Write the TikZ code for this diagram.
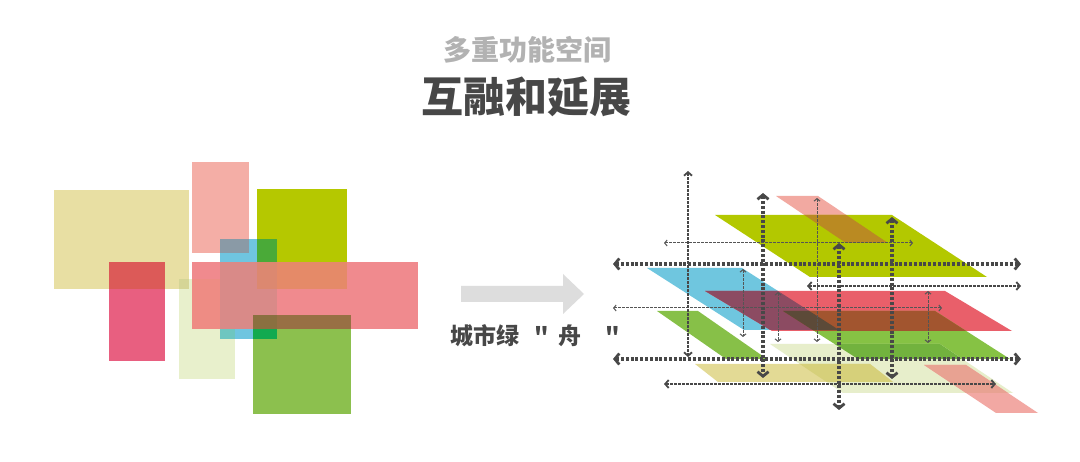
\documentclass[tikz,border=0pt]{standalone}
\usepackage{fontspec}
\newfontfamily\cjk{Noto Sans CJK SC}
\usetikzlibrary{arrows.meta}
% left panel colours
\definecolor{lkhaki}{HTML}{E8DFA3}
\definecolor{lpinktop}{HTML}{F4AEA6}
\definecolor{llime}{HTML}{B5C800}
\definecolor{lblue}{HTML}{6FC5E0}
\definecolor{lredv}{HTML}{E85F80}
\definecolor{lpale}{HTML}{E8F0CC}
\definecolor{lpinkh}{HTML}{F08A8E}
\definecolor{lgreen}{HTML}{8CC04E}
\definecolor{okhred}{HTML}{DC5A58}
\definecolor{okhpale}{HTML}{D5D596}
\definecolor{optblue}{HTML}{8A9AA6}
\definecolor{olimeblue}{HTML}{4AAA38}
\definecolor{opinkpale}{HTML}{EE8C84}
\definecolor{opinkblue}{HTML}{D98A88}
\definecolor{opinklime}{HTML}{E58A68}
\definecolor{oplb}{HTML}{DC8870}
\definecolor{ogreenpink}{HTML}{987044}
\definecolor{ogreenblue}{HTML}{12AA50}
\definecolor{obluepale}{HTML}{6EC6C0}
\definecolor{ogpb}{HTML}{8A7040}
% right panel colours
\definecolor{rPT}{HTML}{F2A9A1}
\definecolor{rLM}{HTML}{B3C800}
\definecolor{rBL}{HTML}{6FC6DF}
\definecolor{rRD}{HTML}{E95F6A}
\definecolor{rGL}{HTML}{87C048}
\definecolor{rGR}{HTML}{86C244}
\definecolor{rPL}{HTML}{E7EECB}
\definecolor{rKH}{HTML}{E3DA95}
\definecolor{rPB}{HTML}{F2A8A3}
\definecolor{xPTLM}{HTML}{BA8A22}
\definecolor{xBR}{HTML}{8C4B62}
\definecolor{xGR}{HTML}{A2552F}
\definecolor{xGRB}{HTML}{5C4A38}
\definecolor{xPLG}{HTML}{72B23E}
\definecolor{xPLK}{HTML}{D6D07A}
\definecolor{xPLPB}{HTML}{E8A292}
\definecolor{arrgray}{HTML}{484848}
\definecolor{thingray}{HTML}{555555}
\definecolor{bigarrow}{HTML}{DDDDDD}
\definecolor{titlelight}{HTML}{B2B2B2}
\definecolor{titledark}{HTML}{474747}
\begin{document}
\begin{tikzpicture}[x=1pt,y=-1pt,
  heavyarr/.style={draw=arrgray, line width=3.4pt, dash pattern=on 3pt off 1.8pt,
    >={Straight Barb[length=4.5pt,width=11pt,line width=2.8pt]}, <->},
  medarr/.style={draw=arrgray, line width=2pt, dash pattern=on 2.5pt off 1.5pt,
    >={Straight Barb[length=3.5pt,width=8pt,line width=1.8pt]}, <->},
  thinarr/.style={draw=thingray, line width=1pt, dash pattern=on 2.5pt off 1.5pt,
    >={Straight Barb[length=2.5pt,width=6pt,line width=1pt]}, <->}]
\useasboundingbox (0,0) rectangle (1080,462);
\fill[white] (0,0) rectangle (1080,462);

% titles
\node[text=titlelight, font=\cjk\bfseries\fontsize{28}{28}\selectfont, inner sep=0] (t1) at (527,50) {多重功能空间};
\node[text=titledark, font=\cjk\bfseries\fontsize{42}{42}\selectfont, inner sep=0] (t2) at (526,97) {互融和延展};

% left panel
\fill[lkhaki] (54,190) rectangle (189,289);
\fill[lpinktop] (192,162) rectangle (249,253);
\fill[llime] (257,189) rectangle (347,289);
\fill[lblue] (220,239) rectangle (277,339);
\fill[lredv] (109,262) rectangle (165,361);
\fill[lpale] (179,279) rectangle (235,379);
\fill[lpinkh] (192,262) rectangle (418,329);
\fill[lgreen] (253,315) rectangle (351,414);
\fill[okhred] (109,262) rectangle (165,289);
\fill[okhpale] (179,279) rectangle (189,289);
\fill[optblue] (220,239) rectangle (249,253);
\fill[olimeblue] (257,239) rectangle (277,262);
\fill[opinkpale] (192,279) rectangle (235,329);
\fill[opinkblue] (220,262) rectangle (277,329);
\fill[opinklime] (257,262) rectangle (347,289);
\fill[oplb] (257,262) rectangle (277,289);
\fill[ogreenpink] (253,315) rectangle (351,329);
\fill[ogreenblue] (253,329) rectangle (277,339);
\fill[obluepale] (220,329) rectangle (235,339);
\fill[ogpb] (253,315) rectangle (277,329);

% big grey arrow and label
\fill[bigarrow] (461,286) -- (563,286) -- (563,274) -- (584,294) -- (563,314) -- (563,302) -- (461,302) -- cycle;
\node[text=titledark, font=\cjk\bfseries\fontsize{23}{23}\selectfont, inner sep=0, anchor=base west] (lbl) at (450,345) {城市绿\hspace{15pt}"\hspace{10pt}舟\hspace{24pt}"};

% right panel shapes
\def\pPT{(776,196)--(818,196)--(888,243)--(846,243)--cycle}
\def\pLM{(715,215)--(892,215)--(987,277)--(810,277)--cycle}
\def\pBL{(647,268)--(742,268)--(839,330)--(744,330)--cycle}
\def\pRD{(705,291)--(945,291)--(1012,331)--(772,331)--cycle}
\def\pGL{(657,311)--(698,311)--(767,359)--(726,359)--cycle}
\def\pGR{(783,311)--(935,311)--(1010,359)--(858,359)--cycle}
\def\pPL{(770,344)--(940,344)--(1013,393)--(843,393)--cycle}
\def\pKH{(695,364)--(870,364)--(893,382)--(718,382)--cycle}
\def\pPB{(924,365)--(966,365)--(1038,413)--(996,413)--cycle}
\fill[rPT] \pPT;
\fill[rLM] \pLM;
\fill[rBL] \pBL;
\fill[rRD] \pRD;
\fill[rGL] \pGL;
\fill[rGR] \pGR;
\fill[rPL] \pPL;
\fill[rKH] \pKH;
\fill[rPB] \pPB;
\begin{scope}\clip \pPT; \fill[xPTLM] \pLM; \end{scope}
\begin{scope}\clip \pBL; \fill[xBR] \pRD; \end{scope}
\begin{scope}\clip \pGR; \fill[xGR] \pRD; \end{scope}
\begin{scope}\clip \pGR; \clip \pRD; \fill[xGRB] \pBL; \end{scope}
\begin{scope}\clip \pPL; \fill[xPLG] \pGR; \end{scope}
\begin{scope}\clip \pPL; \fill[xPLK] \pKH; \end{scope}
\begin{scope}\clip \pPL; \fill[xPLPB] \pPB; \end{scope}

% dotted arrows
\draw[thinarr] (664,243) -- (913,243);
\draw[thinarr] (613,308) -- (942,308);
\draw[thinarr] (743,269) -- (743,337);
\draw[thinarr] (778,292) -- (778,342);
\draw[thinarr] (817,198) -- (817,342);
\draw[thinarr] (928,291) -- (928,343);
\draw[medarr] (807,286) -- (1021,286);
\draw[medarr] (664,384) -- (996,384);
\draw[medarr] (688,171) -- (688,357);
\draw[heavyarr] (613,264) -- (1021,264);
\draw[heavyarr] (613,359) -- (1021,359);
\draw[heavyarr] (763,193) -- (763,378);
\draw[heavyarr] (839,243) -- (839,410);
\draw[heavyarr] (892,217) -- (892,379);
\end{tikzpicture}
\end{document}
